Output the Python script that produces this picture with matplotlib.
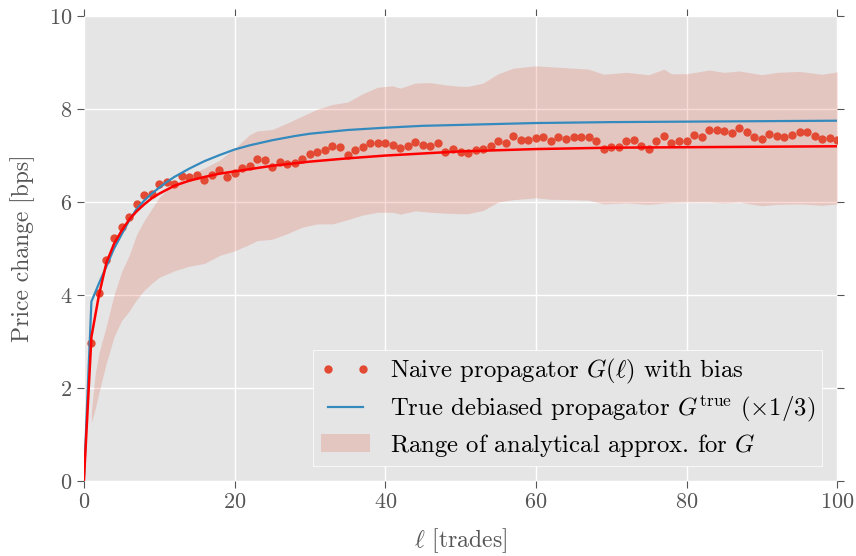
import matplotlib
matplotlib.use("Agg")
import matplotlib.pyplot as plt

# naive propagator estimates, one per lag 1..100
lags = list(range(1, 101))
naive = [2.97, 4.04, 4.76, 5.22, 5.47, 5.68, 5.96, 6.16, 6.17, 6.39,
         6.44, 6.39, 6.56, 6.53, 6.59, 6.48, 6.58, 6.69, 6.53, 6.62,
         6.73, 6.78, 6.92, 6.90, 6.75, 6.87, 6.82, 6.85, 6.92, 7.03,
         7.07, 7.12, 7.20, 7.18, 7.01, 7.12, 7.19, 7.28, 7.28, 7.28,
         7.23, 7.16, 7.21, 7.30, 7.23, 7.21, 7.26, 7.07, 7.14, 7.07,
         7.05, 7.11, 7.14, 7.21, 7.31, 7.27, 7.43, 7.34, 7.34, 7.37,
         7.39, 7.31, 7.39, 7.36, 7.41, 7.39, 7.41, 7.31, 7.14, 7.19,
         7.18, 7.31, 7.34, 7.21, 7.14, 7.31, 7.42, 7.27, 7.31, 7.31,
         7.45, 7.41, 7.55, 7.56, 7.52, 7.49, 7.59, 7.51, 7.41, 7.36,
         7.46, 7.42, 7.39, 7.45, 7.50, 7.50, 7.43, 7.36, 7.38, 7.34]

# fitted curve (red) and true debiased propagator (blue, scaled 1/3)
fit_x = [0, 1, 2, 3, 4, 5, 6, 7, 8, 9, 10, 12, 14, 16, 18, 20, 25, 30,
         35, 40, 50, 60, 70, 80, 90, 100]
fit_y = [0, 3.10, 4.00, 4.70, 5.10, 5.38, 5.62, 5.80, 5.95, 6.08, 6.18,
         6.35, 6.46, 6.54, 6.61, 6.66, 6.78, 6.87, 6.94, 7.00, 7.09, 7.14,
         7.17, 7.18, 7.19, 7.20]
true_x = [0, 1, 2, 3, 4, 5, 6, 7, 8, 9, 10, 11, 12, 14, 16, 18, 20, 22,
          25, 28, 30, 35, 40, 45, 50, 60, 70, 80, 90, 100]
true_y = [0, 3.86, 4.25, 4.62, 5.00, 5.30, 5.60, 5.85, 6.03, 6.18, 6.31,
          6.43, 6.54, 6.72, 6.88, 7.01, 7.13, 7.22, 7.33, 7.42, 7.47, 7.55,
          7.60, 7.64, 7.66, 7.70, 7.72, 7.73, 7.74, 7.75]

# range of the analytical approximation
band_x = [1, 1.5, 2, 3, 4, 5, 6, 7, 8, 9, 10, 12, 14, 16, 18, 20, 22, 23,
          25, 27, 29, 31, 33, 35, 37, 39, 41, 42, 44, 46, 48, 50, 51, 53,
          55, 57, 60, 62, 65, 67, 69, 72, 75, 77, 78, 80, 83, 85, 87, 90,
          92, 95, 98, 100]
band_hi = [1.50, 2.30, 2.75, 3.35, 4.00, 4.50, 4.85, 5.30, 5.60, 5.85,
           6.10, 6.40, 6.58, 6.73, 6.90, 7.15, 7.45, 7.53, 7.56, 7.70,
           7.85, 8.00, 8.10, 8.15, 8.33, 8.47, 8.50, 8.45, 8.56, 8.57,
           8.52, 8.49, 8.49, 8.56, 8.76, 8.88, 8.93, 8.91, 8.88, 8.86,
           8.75, 8.79, 8.74, 8.86, 8.76, 8.76, 8.84, 8.79, 8.82, 8.74,
           8.79, 8.81, 8.75, 8.80]
band_lo = [1.25, 1.55, 1.90, 2.55, 3.10, 3.45, 3.65, 3.90, 4.10, 4.25,
           4.38, 4.52, 4.62, 4.68, 4.85, 4.95, 5.09, 5.17, 5.20, 5.32,
           5.46, 5.53, 5.53, 5.62, 5.72, 5.78, 5.78, 5.74, 5.81, 5.78,
           5.76, 5.75, 5.75, 5.82, 6.00, 6.05, 6.09, 6.06, 6.05, 6.04,
           5.96, 5.98, 5.95, 5.98, 5.99, 6.00, 6.00, 5.98, 6.00, 5.92,
           5.95, 5.96, 5.93, 5.96]

plt.style.use("ggplot")
plt.rcParams["font.family"] = "cmr10"
plt.rcParams["mathtext.fontset"] = "cm"
plt.rcParams["axes.formatter.use_mathtext"] = True
plt.rcParams["axes.unicode_minus"] = False

fig = plt.figure(figsize=(8.56, 5.56), dpi=100)
ax = fig.add_axes([0.098, 0.135, 0.880, 0.836])
ax.set_facecolor("#E5E5E5")
for s in ax.spines.values():
    s.set_visible(False)
ax.grid(True, color="white", linewidth=1.0)
ax.set_axisbelow(True)

ax.fill_between(band_x, band_lo, band_hi, color="#E24A33", alpha=0.2,
                linewidth=0, label=r"Range of analytical approx. for $G$")
ax.plot(lags, naive, "o", color="#E24A33", markersize=6, markeredgewidth=0,
        label=r"Naive propagator $G(\ell)$ with bias")
ax.plot(true_x, true_y, color="#348ABD", linewidth=1.6,
        label=r"True debiased propagator $G^{\mathrm{true}}$ $(\times 1/3)$")
ax.plot(fit_x, fit_y, color="red", linewidth=1.8)

ax.set_xlim(0, 100)
ax.set_ylim(0, 10)
ax.set_xticks([0, 20, 40, 60, 80, 100])
ax.set_yticks([0, 2, 4, 6, 8, 10])
ax.tick_params(axis="both", which="major", direction="out", length=5,
               color="#555555", labelcolor="#555555", labelsize=16,
               top=True, right=True, labeltop=False, labelright=False)
ax.set_xlabel(r"$\ell$ [trades]", fontsize=17, color="#555555", labelpad=10)
ax.set_ylabel("Price change [bps]", fontsize=17, color="#555555", labelpad=10)

h, l = ax.get_legend_handles_labels()
order = [1, 2, 0]
leg = ax.legend([h[i] for i in order], [l[i] for i in order],
                loc="lower right", fontsize=17.8, numpoints=2,
                fancybox=False, framealpha=1, borderaxespad=0.6,
                labelspacing=0.3, borderpad=0.3)
leg.get_frame().set_facecolor("#E5E5E5")
leg.get_frame().set_edgecolor("white")
for t in leg.get_texts():
    t.set_color("black")

fig.savefig("out.png", dpi=100)
